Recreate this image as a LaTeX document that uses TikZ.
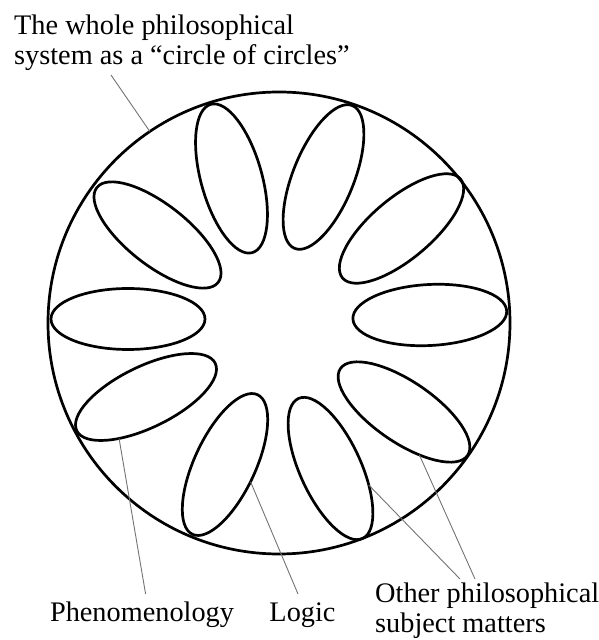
\documentclass[tikz,border=0pt]{standalone}
\usepackage{fontspec}
\setmainfont{Liberation Serif}
\usetikzlibrary{shapes.geometric}
\tikzstyle{whole}=[shape=circle, draw, line width=2.7pt, minimum size=462pt, inner sep=0, outer sep=0]
\tikzstyle{petal}=[shape=ellipse, draw, line width=2.7pt, minimum width=154pt, minimum height=61pt, inner sep=0, outer sep=0]
\tikzstyle{lbl}=[inner sep=0, font=\fontsize{28.3}{30}\selectfont, align=left]
\tikzstyle{leader}=[line width=0.9pt, color=black!55]

\begin{document}
\begin{tikzpicture}[x=1pt, y=1pt]
\useasboundingbox (0,0) rectangle (599,640);
\node at (279,317)[whole](sys){};
\node at (429.8,325)[petal, rotate=3](e1){};
\node at (401.5,411.5)[petal, rotate=40](e2){};
\node at (323.5,463)[petal, rotate=68](e3){};
\node at (231.5,461.5)[petal, rotate=105.6](e4){};
\node at (157.5,405)[petal, rotate=142](e5){};
\node at (128,321)[petal](e6){};
\node at (146,243)[petal, rotate=206](e7){};
\node at (225,175.5)[petal, rotate=245](e8){};
\node at (330.5,171.5)[petal, rotate=294.6](e9){};
\node at (404,228)[petal, rotate=325.7](e10){};
\node at (14,575)[lbl, anchor=base west](title){The whole philosophical\\system as a “circle of circles”};
\node at (142,18)[lbl, anchor=base](phen){Phenomenology};
\node at (302.5,18)[lbl, anchor=base](logic){Logic};
\node at (375,7.5)[lbl, anchor=base west](other){Other philosophical\\subject matters};
\coordinate (t0) at (111,565);
\coordinate (p0) at (145.6,46);
\coordinate (l0) at (298,46);
\coordinate (o1) at (460,61);
\coordinate (o2) at (475,61);
\draw[leader] (t0)--(sys.124);
\draw[leader] (p0)--(e7.31);
\draw[leader] (l0)--(e8.81);
\draw[leader] (o1)--(e9.42);
\draw[leader] (o2)--(e10.324);
\end{tikzpicture}
\end{document}
